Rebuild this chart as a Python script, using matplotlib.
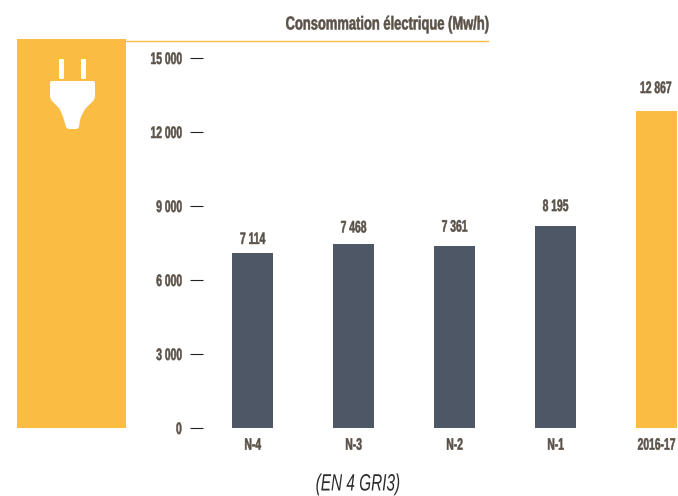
import matplotlib
matplotlib.use("Agg")
import matplotlib.pyplot as plt
from matplotlib.patches import Rectangle, PathPatch, FancyBboxPatch
from matplotlib.patheffects import AbstractPathEffect
from matplotlib.path import Path
from matplotlib.transforms import Affine2D, ScaledTranslation
from matplotlib.lines import Line2D

categories = ["N-4", "N-3", "N-2", "N-1", "2016-17"]
consumption = [7114, 7468, 7361, 8195, 12867]
value_labels = ["7 114", "7 468", "7 361", "8 195", "12 867"]
label_gaps_pt = [4, 6, 8.5, 8.5, 10.5]
bar_colors = ["#4d5766", "#4d5766", "#4d5766", "#4d5766", "#fbbc44"]
y_ticks = [0, 3000, 6000, 9000, 12000, 15000]
y_tick_labels = ["0", "3 000", "6 000", "9 000", "12 000", "15 000"]
title = "Consommation électrique (Mw/h)"
footnote = "(EN 4 GRI3)"

W, H = 678, 496
ORANGE = "#fbbc44"
INK = "#5a5148"
plt.rcParams["font.family"] = ["Liberation Sans", "DejaVu Sans"]


class Condense(AbstractPathEffect):
    """Narrows glyph outlines about the text's centre or right edge, with an optional heavier stroke."""

    def __init__(self, factor, anchor="center", stroke=0.0):
        super().__init__()
        self.factor = factor
        self.anchor = anchor
        self.stroke = stroke

    def draw_path(self, renderer, gc, tpath, affine, rgbFace=None):
        box = tpath.get_extents(affine)
        x0 = box.x1 if self.anchor == "right" else (box.x0 + box.x1) / 2
        squeeze = Affine2D().translate(-x0, 0).scale(self.factor, 1).translate(x0, 0)
        pen = renderer.new_gc()
        pen.copy_properties(gc)
        pen.set_linewidth(self.stroke)
        pen.set_foreground(rgbFace)
        renderer.draw_path(pen, tpath, affine + squeeze, rgbFace)
        pen.restore()


fig = plt.figure(figsize=(W / 100, H / 100), dpi=100, facecolor="white")
px = Affine2D().scale(1 / W, -1 / H).translate(0, 1) + fig.transFigure

# Bar area, placed on the pixel grid of the page
ax = fig.add_axes([203 / W, 1 - 428 / H, (W - 203) / W, 370 / H])
ax.bar(range(len(categories)), consumption, width=41 / 101, color=bar_colors)
ax.set_xlim(-49.5 / 101, (W - 252.5) / 101)
ax.set_ylim(0, 15000)
ax.set_yticks(y_ticks, y_tick_labels)
ax.set_xticks(range(len(categories)), categories)
ax.tick_params(axis="y", length=9.4, width=0.8, color="#222222", pad=5.8, labelsize=12, labelcolor=INK)
ax.tick_params(axis="x", length=0, pad=7, labelsize=12, labelcolor=INK)
for lab in ax.get_yticklabels():
    lab.set_fontweight("bold")
    lab.set_path_effects([Condense(0.62, "right", 0.35)])
x_labels = ax.get_xticklabels()
for lab in x_labels:
    lab.set_fontweight("bold")
    lab.set_path_effects([Condense(0.62, "center", 0.35)])

# The rightmost labels sit close to the page edge, so they hang from their right side
last_label = x_labels[-1]
last_label.set_ha("right")
last_label.set_path_effects([Condense(0.62, "right", 0.35)])
last_label.set_transform(last_label.get_transform() + ScaledTranslation(19 / 100, 0, fig.dpi_scale_trans))

for s in ax.spines.values():
    s.set_visible(False)
for i, (v, t, gap) in enumerate(zip(consumption, value_labels, label_gaps_pt)):
    last = i == len(consumption) - 1
    ax.annotate(t, (i, v), xytext=(11 if last else 0, gap), textcoords="offset points",
                ha="right" if last else "center", va="bottom",
                fontsize=12, fontweight="bold", color=INK, annotation_clip=False,
                path_effects=[Condense(0.62, "right" if last else "center", 0.35)])

# Side panel with the plug pictogram, and the rule under the heading
fig.add_artist(Rectangle((17, 39), 109, 389, transform=px, facecolor=ORANGE, edgecolor="none"))
fig.add_artist(Line2D([126, 488], [40.5, 40.5], transform=px, color=ORANGE, lw=1))
for x0 in (59, 81):
    fig.add_artist(FancyBboxPatch((x0 + 1, 60), 3, 18, boxstyle="round,pad=1,rounding_size=1",
                                  transform=px, facecolor="white", edgecolor="none"))
M, L, C = Path.MOVETO, Path.LINETO, Path.CURVE3
plug = Path(
    [(52, 81), (93, 81), (95, 81), (95, 83), (95, 96), (95, 99), (93, 101), (86, 108), (82, 113),
     (80, 120), (79, 127), (78, 129), (76, 129), (69, 129), (67, 129), (66, 127), (64, 120),
     (62, 113), (59, 108), (52, 101), (50, 99), (50, 96), (50, 83), (50, 81), (52, 81)],
    [M, L, C, C, L, C, C, L, C, C, L, C, C, L, C, C, L, C, C, L, C, C, L, C, C],
)
fig.add_artist(PathPatch(plug, transform=px, facecolor="white", edgecolor="none"))

fig.text(387 / W, 1 - 25 / H, title, ha="center", va="center", fontsize=13.5, fontweight="bold", color=INK,
         path_effects=[Condense(0.69, "center", 0.35)])
fig.text(358 / W, 1 - 484 / H, footnote, ha="center", va="center", fontsize=17, style="italic", color="#2b2b2b",
         path_effects=[Condense(0.65)])

fig.savefig("out.png", dpi=100)
